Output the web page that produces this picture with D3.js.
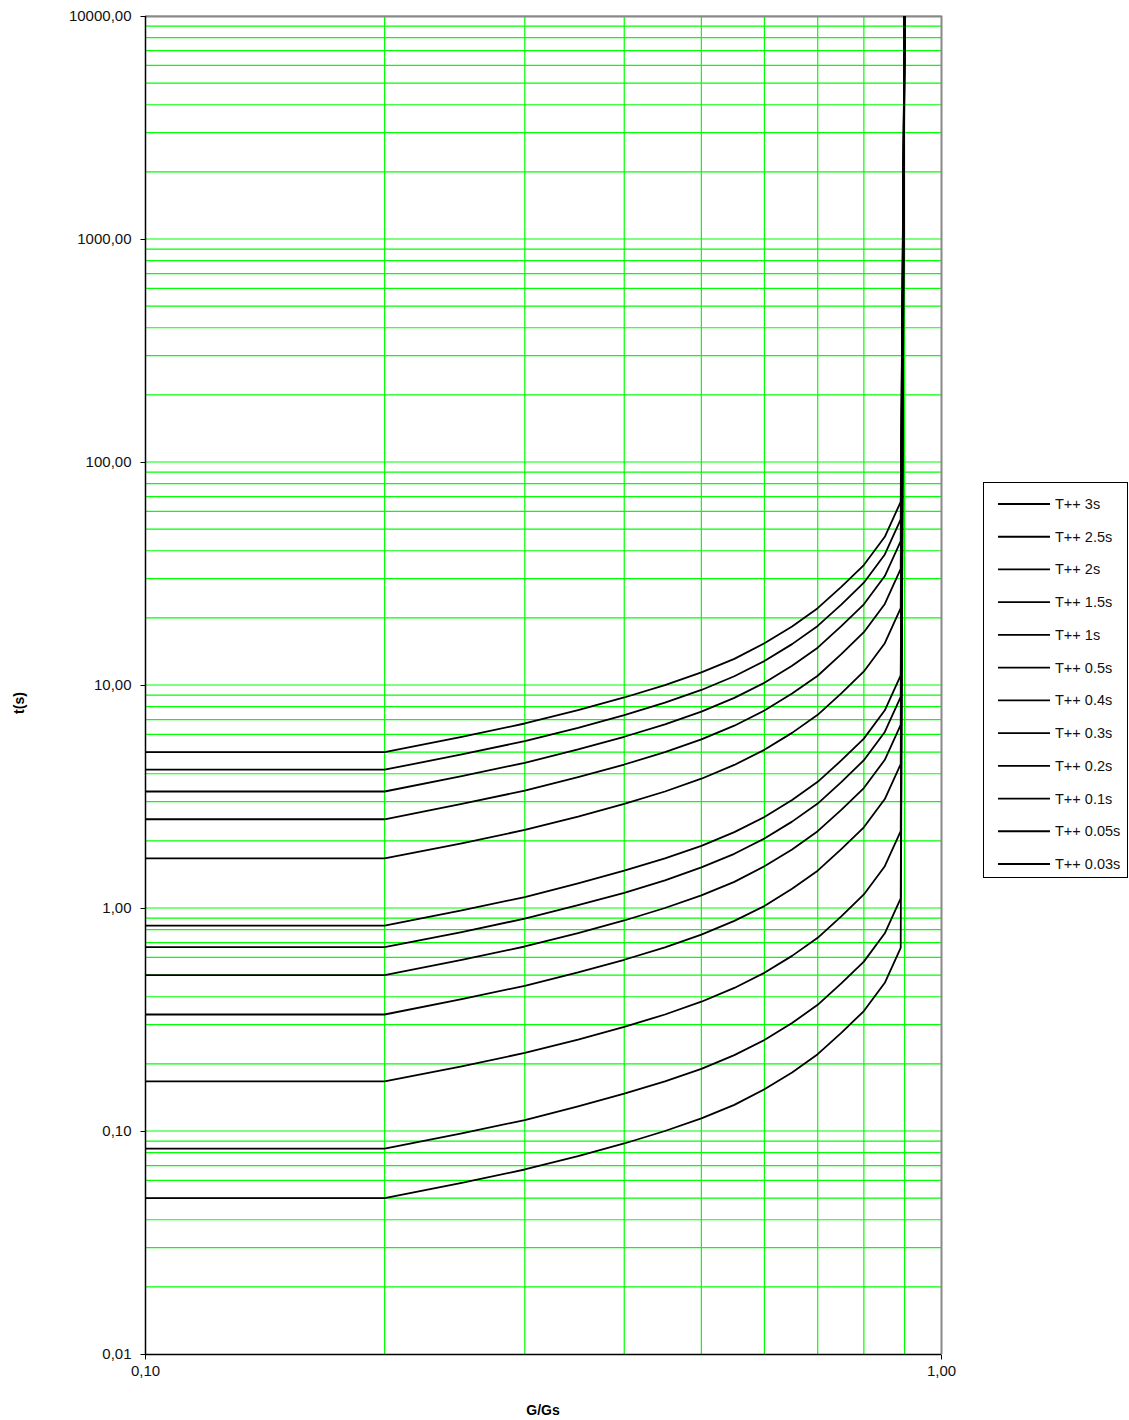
<!DOCTYPE html>
<html><head><meta charset="utf-8">
<script src="https://cdn.jsdelivr.net/npm/d3@7"></script>
<style>body{margin:0;background:#fff}svg{display:block}text{font-family:"Liberation Sans",Arial,sans-serif}</style>
</head><body><svg id="c" width="1129" height="1420"></svg>
<script>
const gValues = [0.1, 0.2, 0.25, 0.3, 0.35, 0.4, 0.45, 0.5, 0.55, 0.6, 0.65, 0.7, 0.75, 0.8, 0.85, 0.89, 0.9];
const seriesNames = ["T++ 3s","T++ 2.5s","T++ 2s","T++ 1.5s","T++ 1s","T++ 0.5s","T++ 0.4s","T++ 0.3s","T++ 0.2s","T++ 0.1s","T++ 0.05s","T++ 0.03s"];
const s3   = [5.0, 5.0, 5.85, 6.72, 7.71, 8.79, 9.99, 11.4, 13.1, 15.4, 18.3, 22.1, 27.6, 34.5, 46.2, 66.3, 10000];
const s2_5 = [4.17, 4.17, 4.88, 5.6, 6.43, 7.33, 8.33, 9.5, 10.95, 12.8, 15.25, 18.4, 23.0, 28.75, 38.5, 55.3, 10000];
const s2   = [3.33, 3.33, 3.9, 4.48, 5.14, 5.86, 6.66, 7.6, 8.76, 10.24, 12.2, 14.7, 18.4, 23.0, 30.8, 44.2, 10000];
const s1_5 = [2.5, 2.5, 2.93, 3.36, 3.86, 4.4, 5.0, 5.7, 6.57, 7.68, 9.15, 11.0, 13.8, 17.25, 23.1, 33.2, 10000];
const s1   = [1.67, 1.67, 1.95, 2.24, 2.57, 2.93, 3.33, 3.8, 4.38, 5.12, 6.1, 7.35, 9.2, 11.5, 15.4, 22.1, 10000];
const s0_5 = [0.833, 0.833, 0.975, 1.12, 1.29, 1.47, 1.67, 1.9, 2.19, 2.56, 3.05, 3.68, 4.6, 5.75, 7.7, 11.05, 10000];
const s0_4 = [0.667, 0.667, 0.78, 0.896, 1.03, 1.17, 1.33, 1.52, 1.75, 2.05, 2.44, 2.94, 3.68, 4.6, 6.16, 8.84, 10000];
const s0_3 = [0.5, 0.5, 0.585, 0.672, 0.771, 0.879, 1.0, 1.14, 1.31, 1.54, 1.83, 2.21, 2.76, 3.45, 4.62, 6.63, 10000];
const s0_2 = [0.333, 0.333, 0.39, 0.448, 0.514, 0.586, 0.666, 0.76, 0.876, 1.02, 1.22, 1.47, 1.84, 2.3, 3.08, 4.42, 10000];
const s0_1 = [0.167, 0.167, 0.195, 0.224, 0.257, 0.293, 0.333, 0.38, 0.438, 0.512, 0.61, 0.735, 0.92, 1.15, 1.54, 2.21, 10000];
const s0_05 = [0.0833, 0.0833, 0.0975, 0.112, 0.129, 0.147, 0.167, 0.19, 0.219, 0.256, 0.305, 0.368, 0.46, 0.575, 0.77, 1.105, 10000];
const s0_03 = [0.05, 0.05, 0.0585, 0.0672, 0.0771, 0.0879, 0.1, 0.114, 0.131, 0.154, 0.183, 0.221, 0.276, 0.345, 0.462, 0.663, 10000];
const seriesValues = [s3, s2_5, s2, s1_5, s1, s0_5, s0_4, s0_3, s0_2, s0_1, s0_05, s0_03];
const yTickValues = [0.01, 0.1, 1, 10, 100, 1000, 10000];
const yTickLabels = ["0,01", "0,10", "1,00", "10,00", "100,00", "1000,00", "10000,00"];
const xTickValues = [0.1, 1];
const xTickLabels = ["0,10", "1,00"];
const xGridValues = [0.2, 0.3, 0.4, 0.5, 0.6, 0.7, 0.8, 0.9];

const L = 145, R = 941, T = 16, B = 1354;
const svg = d3.select("#c");
const x = d3.scaleLog().domain([0.1, 1]).range([L, R]);
const y = d3.scaleLog().domain([0.01, 10000]).range([B, T]);

// horizontal grid: every 1..9 x 10^k
const yGrid = [];
for (let e = -2; e <= 3; e++) for (let m = 1; m <= 9; m++) { const v = m * Math.pow(10, e); if (v > 0.01) yGrid.push(v); }
yGrid.push(10000);
svg.append("g").selectAll("line").data(yGrid).join("line")
  .attr("x1", L).attr("x2", R).attr("y1", d => y(d)).attr("y2", d => y(d))
  .attr("stroke", "#00ff00").attr("stroke-width", 1.2);
svg.append("g").selectAll("line").data(xGridValues).join("line")
  .attr("y1", T).attr("y2", B).attr("x1", d => x(d)).attr("x2", d => x(d))
  .attr("stroke", "#00ff00").attr("stroke-width", 1.2);

// border top/right
svg.append("path").attr("d", `M${L},${T+0.5}H${R+0.5}V${B}`).attr("fill", "none").attr("stroke", "#888").attr("stroke-width", 2);

// curves
const line = d3.line().x((d, i) => x(gValues[i])).y(d => y(d));
svg.append("g").selectAll("path").data(seriesValues).join("path")
  .attr("d", d => line(d)).attr("fill", "none").attr("stroke", "#000").attr("stroke-width", 1.8).attr("stroke-linejoin", "round");

// axes
const yAxis = d3.axisLeft(y).tickValues(yTickValues).tickFormat((d, i) => yTickLabels[i]).tickSize(5).tickPadding(9);
const gy = svg.append("g").attr("transform", `translate(${L+0.5},0)`).call(yAxis);
const xAxis = d3.axisBottom(x).tickValues(xTickValues).tickFormat((d, i) => xTickLabels[i]).tickSize(5).tickPadding(6);
const gx = svg.append("g").attr("transform", `translate(0,${B+0.5})`).call(xAxis);
[gy, gx].forEach(g => {
  g.select(".domain").attr("stroke", "#000").attr("stroke-width", 1.5);
  g.selectAll(".tick line").attr("stroke", "#000");
  g.selectAll("text").attr("font-size", 15).attr("fill", "#111").style("font-family", "'Liberation Sans',Arial,sans-serif");
});
gy.select(".domain").attr("d", `M0,${T}V${B}`);
gx.select(".domain").attr("d", `M${L},0H${R}`);

// titles
svg.append("text").attr("transform", "translate(24,703) rotate(-90)").attr("text-anchor", "middle")
  .attr("font-size", 14).attr("font-weight", "bold").text("t(s)");
svg.append("text").attr("x", 543).attr("y", 1415).attr("text-anchor", "middle")
  .attr("font-size", 14).attr("font-weight", "bold").text("G/Gs");

// legend
const lg = svg.append("g");
lg.append("rect").attr("x", 983.5).attr("y", 482.5).attr("width", 144).attr("height", 395)
  .attr("fill", "#fff").attr("stroke", "#000").attr("stroke-width", 1);
const rowY = d3.scaleLinear().domain([0, seriesNames.length - 1]).range([504, 864]);
const rows = lg.selectAll("g.row").data(seriesNames).join("g").attr("class", "row")
  .attr("transform", (d, i) => `translate(0,${rowY(i)})`);
rows.append("line").attr("x1", 998).attr("x2", 1050).attr("y1", 0).attr("y2", 0).attr("stroke", "#000").attr("stroke-width", 1.8);
rows.append("text").attr("x", 1055).attr("y", 5).attr("font-size", 14.5).attr("fill", "#111").text(d => d);
</script></body></html>
